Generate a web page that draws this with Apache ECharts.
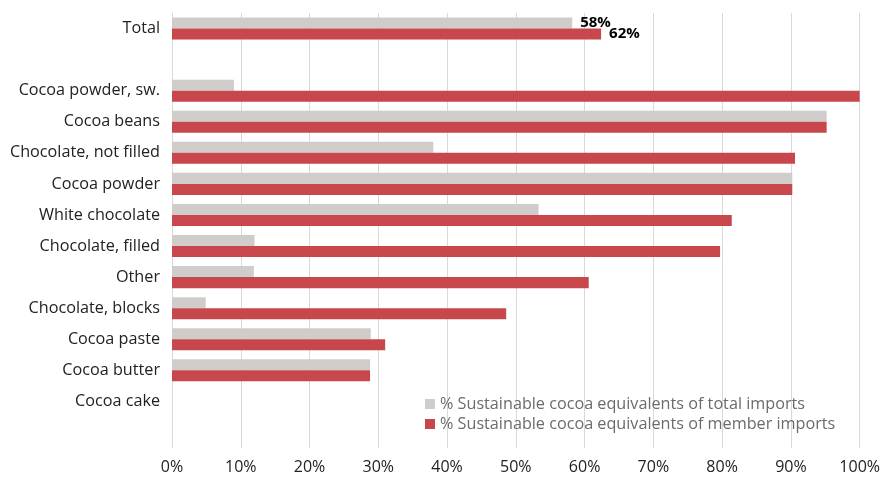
<!DOCTYPE html>
<html>
<head>
<meta charset="utf-8">
<script src="https://cdn.jsdelivr.net/npm/echarts@6/dist/echarts.min.js"></script>
<style>html,body{margin:0;padding:0;background:#fff}#c{width:883px;height:481px}</style>
</head>
<body>
<div id="c"></div>
<script>
var categories = ['Total', ' ', 'Cocoa powder, sw.', 'Cocoa beans', 'Chocolate, not filled', 'Cocoa powder', 'White chocolate', 'Chocolate, filled', 'Other', 'Chocolate, blocks', 'Cocoa paste', 'Cocoa butter', 'Cocoa cake', '  '];
var totalImports = [58.2, null, 9.0, 95.2, 38.0, 90.2, 53.3, 12.0, 11.9, 4.9, 28.9, 28.8, 0, null];
var memberImports = [62.4, null, 100, 95.2, 90.6, 90.2, 81.4, 79.7, 60.6, 48.6, 31.0, 28.8, 0, null];
var tickLabels = ['0%', '10%', '20%', '30%', '40%', '50%', '60%', '70%', '80%', '90%', '100%'];
var seriesNames = ['% Sustainable cocoa equivalents of total imports', '% Sustainable cocoa equivalents of member imports'];
var labelIndex = 0;

function build(arr) {
  return arr.map(function (v, i) {
    if (i === labelIndex) {
      return { value: v, label: { show: true, position: 'right', distance: 8, formatter: function (p) { return Math.round(p.value) + '%'; },
        fontFamily: 'Open Sans', fontSize: 15, fontWeight: 'bold', color: '#000' } };
    }
    return v;
  });
}

var chart = echarts.init(document.getElementById('c'));
chart.setOption({
  animation: false,
  textStyle: { fontFamily: 'Open Sans' },
  grid: { left: 172, right: 22, top: 13, bottom: 33, containLabel: false },
  legend: {
    orient: 'vertical', left: 420, top: 391,
    itemWidth: 10, itemHeight: 10, itemGap: 4,
    icon: 'rect',
    textStyle: { fontFamily: 'Open Sans', fontSize: 16.2, color: '#6b6b6b' },
    data: seriesNames
  },
  xAxis: {
    type: 'value', min: 0, max: 100, interval: 10,
    axisLine: { show: false }, axisTick: { show: false },
    splitLine: { show: true, lineStyle: { color: '#d9d9d9', width: 1 } },
    axisLabel: { margin: 11, fontSize: 16, color: '#222', fontFamily: 'Open Sans',
      formatter: function (v) { return tickLabels[Math.round(v / 10)]; } }
  },
  yAxis: {
    type: 'category', inverse: true, data: categories,
    axisLine: { show: true, lineStyle: { color: '#d9d9d9', width: 1 } },
    axisTick: { show: false },
    axisLabel: { margin: 12, fontSize: 16.2, color: '#222', fontFamily: 'Open Sans' }
  },
  series: [
    { name: seriesNames[0], type: 'bar', data: build(totalImports), barGap: '0%', barCategoryGap: '29%',
      itemStyle: { color: '#d0ccc9' } },
    { name: seriesNames[1], type: 'bar', data: build(memberImports),
      itemStyle: { color: '#c8474d' } }
  ]
});
</script>
</body>
</html>
